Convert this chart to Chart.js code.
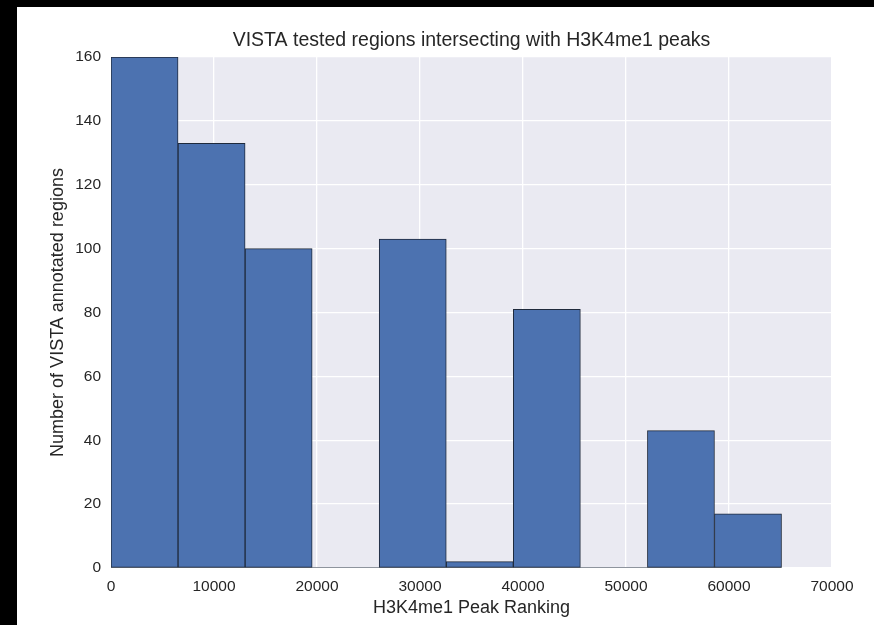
<!DOCTYPE html>
<html>
<head>
<meta charset="utf-8">
<script src="https://cdn.jsdelivr.net/npm/chart.js@4.4.1/dist/chart.umd.min.js"></script>
<style>
  html, body { margin: 0; padding: 0; background: #000; width: 874px; height: 625px; overflow: hidden; }
  #wrap { position: absolute; left: 17px; top: 7px; width: 857px; height: 618px; background: #fff; }
  canvas { display: block; }
</style>
</head>
<body>
<div id="wrap"><canvas id="hist" width="857" height="618"></canvas></div>
<script>
// Histogram of H3K4me1 peak rankings for VISTA tested regions
const binEdges = [0, 6510, 13020, 19530, 26040, 32550, 39060, 45570, 52080, 58590, 65100];
const counts = [160, 133, 100, 0, 103, 2, 81, 0, 43, 17];
const xTicks = [0, 10000, 20000, 30000, 40000, 50000, 60000, 70000];
const yTicks = [0, 20, 40, 60, 80, 100, 120, 140, 160];

const chartTitle = 'VISTA tested regions intersecting with H3K4me1 peaks';
const xLabel = 'H3K4me1 Peak Ranking';
const yLabel = 'Number of VISTA annotated regions';

const barFill = '#4c72b0';
const barEdge = '#1f2a3c';
const textColor = '#262626';

const binPoints = counts.map((c, i) => ({ x: (binEdges[i] + binEdges[i + 1]) / 2, y: c }));
const baseline = [{ x: binEdges[0], y: 0 }, { x: binEdges[binEdges.length - 1], y: 0 }];

const plotBackground = {
  id: 'plotBackground',
  beforeDraw(chart) {
    const { ctx, chartArea: a } = chart;
    ctx.save();
    ctx.fillStyle = '#eaeaf2';
    ctx.fillRect(a.left, a.top, a.right - a.left, a.bottom - a.top);
    ctx.restore();
  }
};

const family = '"Liberation Sans", Arial, sans-serif';
const tickFont = { family, size: 15.5 };
const labelFont = { family, size: 18 };

new Chart(document.getElementById('hist'), {
  type: 'bar',
  data: {
    datasets: [
      {
        type: 'bar',
        data: binPoints,
        backgroundColor: barFill,
        borderColor: barEdge,
        borderWidth: 1,
        borderSkipped: false,
        barPercentage: 1,
        categoryPercentage: 1,
        order: 2
      },
      {
        type: 'line',
        data: baseline,
        borderColor: barEdge,
        borderWidth: 1.2,
        pointRadius: 0,
        order: 1
      }
    ]
  },
  options: {
    responsive: false,
    devicePixelRatio: 1,
    animation: false,
    layout: { padding: { left: 0, right: 42, top: 0, bottom: 0 } },
    plugins: {
      legend: { display: false },
      tooltip: { enabled: false },
      title: {
        display: true,
        fullSize: false,
        text: chartTitle,
        color: textColor,
        font: { family, size: 19.5, weight: 'normal' },
        padding: { top: 22, bottom: 4.6 }
      }
    },
    scales: {
      x: {
        type: 'linear',
        offset: false,
        min: xTicks[0],
        max: xTicks[xTicks.length - 1],
        afterBuildTicks(scale) { scale.ticks = xTicks.map(v => ({ value: v })); },
        afterFit(scale) { scale.height = 57; },
        ticks: { color: textColor, font: tickFont, padding: 9, maxRotation: 0, callback: v => String(v) },
        grid: { color: '#ffffff', lineWidth: 1.3, drawTicks: false, offset: false },
        border: { display: false },
        title: { display: true, text: xLabel, color: textColor, font: labelFont, padding: { top: 0, bottom: 6 } }
      },
      y: {
        min: yTicks[0],
        max: yTicks[yTicks.length - 1],
        afterBuildTicks(scale) { scale.ticks = yTicks.map(v => ({ value: v })); },
        afterFit(scale) { scale.width = 94; },
        ticks: { color: textColor, font: tickFont, padding: 10, callback: v => String(v) },
        grid: { color: '#ffffff', lineWidth: 1.3, drawTicks: false },
        border: { display: false },
        title: { display: true, text: yLabel, color: textColor, font: labelFont, padding: { top: 30, bottom: 0 } }
      }
    }
  },
  plugins: [plotBackground]
});
</script>
</body>
</html>
